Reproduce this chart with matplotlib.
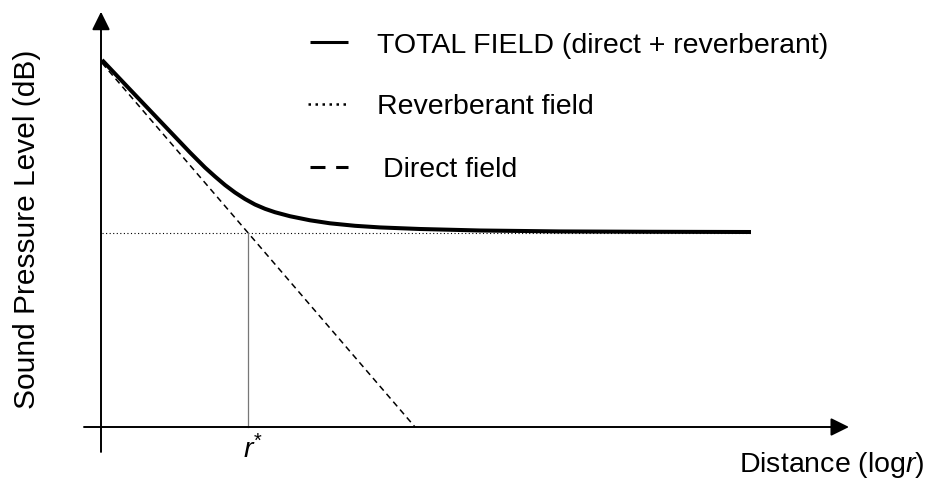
#Sound pressure level vs distance: direct, reverberant and total field
import matplotlib.pyplot as plt
from matplotlib.lines import Line2D

plt.rcParams['font.family'] = 'Liberation Sans'
plt.rcParams['mathtext.fontset'] = 'custom'
plt.rcParams['mathtext.rm'] = 'Liberation Sans'
plt.rcParams['mathtext.it'] = 'Liberation Sans:italic'

#log r (decades from origin) and level (dB above the distance axis)
total_logr = [0.01, 0.29, 0.59, 0.89, 1.04, 1.14, 1.24, 1.34, 1.44, 1.54, 1.64,
              1.74, 1.89, 2.09, 2.29, 2.54, 2.79, 3.19, 3.79, 4.59, 5.49, 6.50]
total_spl = [63.28, 58.19, 52.76, 47.33, 44.74, 43.19, 41.72, 40.43, 39.31, 38.36, 37.62,
             37.03, 36.34, 35.64, 35.12, 34.69, 34.41, 34.14, 33.88, 33.72, 33.66, 33.62]
direct_logr = [0.01, 3.14]
direct_spl = [62.76, 0.0]
reverb_logr = [0.01, 6.50]
reverb_spl = [33.45, 33.45]
r_star = 1.466

W, H = 934, 482
fig = plt.figure(figsize=(W / 100, H / 100), dpi=100)
ax = fig.add_axes([0, 0, 1, 1])
ax.set_xlim(-1.01, 8.33)
ax.set_ylim(-55 / 5.8, 427 / 5.8)
ax.axis('off')

def fxy(px, py):
    #pixel position -> figure fraction
    return px / W, 1 - py / H

#axes with arrow heads
arrow = dict(arrowstyle='-|>,head_length=0.85,head_width=0.42', mutation_scale=13,
             lw=1.4, color='black', shrinkA=0, shrinkB=0)
ax.annotate('', xy=(0, 71.6), xytext=(0, -4.3), arrowprops=arrow)
ax.annotate('', xy=(7.48, 0), xytext=(-0.17, 0), arrowprops=arrow)

#curves
ax.plot(reverb_logr, reverb_spl, color='black', lw=0.8, dashes=(1, 2.2))
ax.plot(direct_logr, direct_spl, color='black', lw=1.1, dashes=(4, 2.8))
ax.plot([r_star, r_star], [0, reverb_spl[0]], color='#777777', lw=0.9)
ax.plot(total_logr, total_spl, color='black', lw=2.9, solid_capstyle='butt',
        solid_joinstyle='round')

#legend keys and labels
keys = [((310, 348), 42, dict(lw=2.2, solid_capstyle='butt')),
        ((308, 349), 104, dict(lw=1.8, dashes=(1, 1.8))),
        ((310, 348), 167, dict(lw=2.2, dashes=(4.9, 3.5)))]
for (x0, x1), y, style in keys:
    (a, b), (c, _) = fxy(x0, y), fxy(x1, y)
    fig.add_artist(Line2D([a, c], [b, b], color='black', transform=fig.transFigure, **style))

legend_text = [(377, 53, 'TOTAL FIELD (direct + reverberant)'),
               (377, 114, 'Reverberant field'),
               (383, 177, 'Direct field')]
for x, y, s in legend_text:
    fig.text(*fxy(x, y), s, fontsize=20.5, ha='left', va='baseline')

#axis labels
fig.text(*fxy(27, 229), 'Sound Pressure Level (dB)', fontsize=21.5, rotation=90,
         ha='center', va='center')
fig.text(*fxy(739, 472), r'Distance (log$\mathit{r}$)', fontsize=20.5, ha='left', va='baseline')
fig.text(*fxy(243, 458), r'$\mathit{r}^{*}$', fontsize=20.5, ha='left', va='baseline')

fig.savefig('out.png', dpi=100)
